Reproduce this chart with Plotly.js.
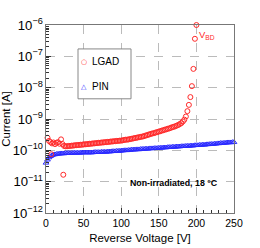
<!DOCTYPE html>
<html><head><meta charset="utf-8">
<script src="https://cdn.plot.ly/plotly-3.0.1.min.js"></script>
<style>html,body{margin:0;padding:0;background:#fff;}#c{width:260px;height:248px;}</style>
</head><body><div id="c"></div>
<script>
// LGAD: reverse voltage [V] and current [A]
const lgadV = [2,4,6,7,8,10,12,14,16,18,20,22,23,
  24,26,28,30,32,34,36,38,40,42,44,46,48,50,52,54,56,58,60,62,64,66,68,70,72,74,76,78,80,
  82,84,86,88,90,92,94,96,98,100,102,104,106,108,110,112,114,116,118,120,122,124,126,128,130,
  132,134,136,138,140,142,144,146,148,150,152,154,156,158,160,162,164,166,168,170,172,174,176,178,180,
  182,184,186,188,190,192,194,196,198,200];
const lgadI = [2.51e-10,2.00e-10,1.82e-10,7.5e-11,1.66e-10,1.78e-10,1.58e-10,1.74e-10,1.82e-10,1.62e-10,2.24e-10,1.58e-10,1.66e-11,
  1.38e-10,1.35e-10,1.35e-10,1.38e-10,1.38e-10,1.41e-10,1.41e-10,1.45e-10,1.45e-10,1.48e-10,1.48e-10,1.51e-10,1.51e-10,1.55e-10,1.55e-10,1.58e-10,1.58e-10,1.62e-10,1.62e-10,1.66e-10,1.66e-10,1.70e-10,1.70e-10,1.74e-10,1.74e-10,1.78e-10,1.78e-10,1.82e-10,1.82e-10,
  1.86e-10,1.86e-10,1.91e-10,1.91e-10,1.95e-10,1.95e-10,2.00e-10,2.00e-10,2.04e-10,2.04e-10,2.09e-10,2.14e-10,2.19e-10,2.19e-10,2.24e-10,2.29e-10,2.34e-10,2.40e-10,2.46e-10,2.51e-10,2.57e-10,2.63e-10,2.69e-10,2.75e-10,2.82e-10,
  2.95e-10,3.02e-10,3.16e-10,3.24e-10,3.39e-10,3.47e-10,3.55e-10,3.72e-10,3.80e-10,3.98e-10,4.07e-10,4.27e-10,4.37e-10,4.57e-10,4.68e-10,4.90e-10,5.01e-10,5.25e-10,5.50e-10,5.62e-10,5.89e-10,6.17e-10,6.46e-10,6.92e-10,7.41e-10,
  8.32e-10,9.55e-10,1.20e-9,1.78e-9,2.82e-9,5.01e-9,1.12e-8,3.98e-8,3.63e-7,1.00e-6];

// PIN: reverse voltage [V] and current [A]
const pinV = [0,2,4,6,8,10,12,14,16,18,20,22,24,26,28,30,32,34,36,38,40,42,44,46,48,50,
  52,54,56,58,60,62,64,66,68,70,72,74,76,78,80,82,84,86,88,90,92,94,96,98,100,
  102,104,106,108,110,112,114,116,118,120,122,124,126,128,130,132,134,136,138,140,142,144,146,148,150,
  152,154,156,158,160,162,164,166,168,170,172,174,176,178,180,182,184,186,188,190,192,194,196,198,200,
  202,204,206,208,210,212,214,216,218,220,222,224,226,228,230,232,234,236,238,240,242,244,246,248,250];
const pinI = [3.98e-11,5.01e-11,5.89e-11,6.46e-11,6.92e-11,7.24e-11,7.41e-11,7.59e-11,7.76e-11,7.76e-11,7.94e-11,7.94e-11,7.94e-11,8.13e-11,8.13e-11,8.13e-11,8.13e-11,8.13e-11,8.32e-11,8.32e-11,8.32e-11,8.32e-11,8.32e-11,8.32e-11,8.51e-11,8.51e-11,
  8.51e-11,8.51e-11,8.51e-11,8.51e-11,8.51e-11,8.51e-11,8.71e-11,8.71e-11,8.71e-11,8.71e-11,8.71e-11,8.91e-11,8.91e-11,8.91e-11,8.91e-11,9.12e-11,9.12e-11,9.12e-11,9.33e-11,9.33e-11,9.33e-11,9.55e-11,9.55e-11,9.55e-11,9.77e-11,
  9.77e-11,1.00e-10,1.00e-10,1.00e-10,1.02e-10,1.02e-10,1.05e-10,1.05e-10,1.05e-10,1.07e-10,1.07e-10,1.07e-10,1.10e-10,1.10e-10,1.10e-10,1.12e-10,1.12e-10,1.12e-10,1.15e-10,1.15e-10,1.15e-10,1.17e-10,1.17e-10,1.17e-10,1.20e-10,
  1.20e-10,1.20e-10,1.23e-10,1.23e-10,1.23e-10,1.26e-10,1.26e-10,1.26e-10,1.29e-10,1.29e-10,1.29e-10,1.32e-10,1.32e-10,1.32e-10,1.35e-10,1.35e-10,1.35e-10,1.38e-10,1.38e-10,1.38e-10,1.41e-10,1.41e-10,1.41e-10,1.45e-10,1.45e-10,
  1.45e-10,1.48e-10,1.48e-10,1.51e-10,1.51e-10,1.51e-10,1.55e-10,1.55e-10,1.58e-10,1.58e-10,1.58e-10,1.62e-10,1.62e-10,1.66e-10,1.66e-10,1.70e-10,1.70e-10,1.70e-10,1.74e-10,1.74e-10,1.78e-10,1.78e-10,1.78e-10,1.82e-10,1.82e-10];

const seriesNames = ['LGAD', 'PIN'];
const xTitle = 'Reverse Voltage [V]';
const yTitle = 'Current [A]';
const noteText = 'Non-irradiated, 18 °C';
const vbdText = 'V<sub>BD</sub>';

const FONT = 'Liberation Sans, Arial, Helvetica, sans-serif';
const RED = '#ff2a2a', BLUE = '#2a2aff';

const traces = [
  {x: pinV, y: pinI, name: seriesNames[1], type: 'scatter', mode: 'markers', cliponaxis: false,
   marker: {symbol: 'triangle-up-open', size: 5, color: BLUE, line: {width: 1}}},
  {x: lgadV, y: lgadI, name: seriesNames[0], type: 'scatter', mode: 'markers', cliponaxis: false,
   marker: {symbol: 'circle-open', size: 5, color: RED, line: {width: 1}}}
];

const px = v => (v - 46) / 188;          // paper x from pixel
const py = v => (213.5 - v) / 188.5;     // paper y from pixel

const layout = {
  width: 260, height: 248,
  margin: {l: 46, r: 26, t: 25, b: 35},
  paper_bgcolor: '#fff', plot_bgcolor: '#fff',
  font: {family: FONT, size: 10, color: '#000'},
  showlegend: false,
  xaxis: {
    range: [-0.001, 250.001], tick0: 0, dtick: 50, ticks: 'inside', ticklen: 5, tickcolor: '#333',
    showline: true, linecolor: '#777', linewidth: 1, mirror: true,
    showgrid: true, gridcolor: '#bbb', griddash: 'dash', gridwidth: 1, zeroline: false,
    minor: {ticks: 'inside', ticklen: 3, dtick: 10, tickcolor: '#333', showgrid: false},
    tickfont: {size: 10.5},
    title: {text: xTitle, font: {size: 11.5}, standoff: 6}
  },
  yaxis: {
    type: 'log', range: [-12.0005, -5.9995], dtick: 1, exponentformat: 'power',
    ticks: 'inside', ticklen: 5, tickcolor: '#333',
    showline: true, linecolor: '#777', linewidth: 1, mirror: true,
    showgrid: true, gridcolor: '#bbb', griddash: 'dash', gridwidth: 1, zeroline: false,
    minor: {ticks: 'inside', ticklen: 3, dtick: 'D1', tickcolor: '#333', showgrid: false},
    tickfont: {size: 10.5},
    title: {text: yTitle, font: {size: 11.5}, standoff: 4}
  },
  shapes: [
    {type: 'rect', xref: 'paper', yref: 'paper', x0: px(78), x1: px(131), y0: py(99), y1: py(49),
     line: {color: '#888', width: 1}, fillcolor: '#fff', layer: 'above'}
  ],
  annotations: [
    {xref: 'paper', yref: 'paper', x: px(84), y: py(62), text: '○', showarrow: false,
     font: {size: 7, color: RED, family: 'DejaVu Sans'}, xanchor: 'center', yanchor: 'middle'},
    {xref: 'paper', yref: 'paper', x: px(90), y: py(62), text: seriesNames[0], showarrow: false,
     font: {size: 10}, xanchor: 'left', yanchor: 'middle'},
    {xref: 'paper', yref: 'paper', x: px(84), y: py(87), text: '△', showarrow: false,
     font: {size: 7, color: BLUE, family: 'DejaVu Sans'}, xanchor: 'center', yanchor: 'middle'},
    {xref: 'paper', yref: 'paper', x: px(90), y: py(87), text: seriesNames[1], showarrow: false,
     font: {size: 10}, xanchor: 'left', yanchor: 'middle'},
    {xref: 'paper', yref: 'paper', x: px(197), y: py(35), text: vbdText, showarrow: false,
     font: {size: 9.5, color: RED, family: FONT}, xanchor: 'left', yanchor: 'middle'},
    {xref: 'paper', yref: 'paper', x: px(174), y: py(183), text: '<b>' + noteText + '</b>', showarrow: false,
     font: {size: 8.8}, xanchor: 'center', yanchor: 'middle'}
  ]
};

Plotly.newPlot('c', traces, layout, {staticPlot: true, displayModeBar: false});
</script>
</body></html>
